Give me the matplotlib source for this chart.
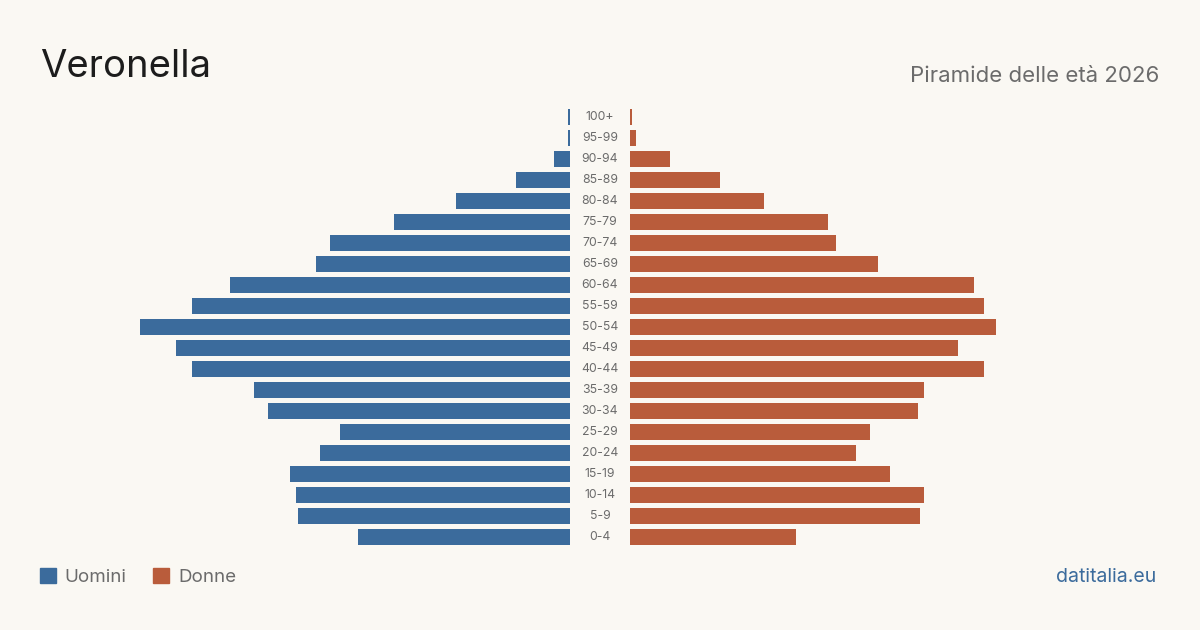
import matplotlib.pyplot as plt
from matplotlib.transforms import blended_transform_factory

plt.rcParams['font.family'] = ['Inter', 'DejaVu Sans']

eta = ['0-4', '5-9', '10-14', '15-19', '20-24', '25-29', '30-34', '35-39',
       '40-44', '45-49', '50-54', '55-59', '60-64', '65-69', '70-74', '75-79',
       '80-84', '85-89', '90-94', '95-99', '100+']
uomini = [106, 136, 137, 140, 125, 115, 151, 158, 189, 197, 215, 189, 170,
          127, 120, 88, 57, 27, 8, 1, 1]
donne = [83, 145, 147, 130, 113, 120, 144, 147, 177, 164, 183, 177, 172,
         124, 103, 99, 67, 45, 20, 3, 1]

blu = '#3b6b9c'
arancio = '#b95c3b'
sfondo = '#faf8f3'
grigio = '#6b6b6b'

W, H = 1200, 630
fig = plt.figure(figsize=(12, 6.3), dpi=100, facecolor=sfondo)

# assi in pixel: centro libero tra 570 e 630
top, bottom = 106.5, 547.5
ax_l = fig.add_axes([140 / W, 1 - bottom / H, 430 / W, (bottom - top) / H])
ax_r = fig.add_axes([630 / W, 1 - bottom / H, 430 / W, (bottom - top) / H])

vmax = max(max(uomini), max(donne))
y = range(len(eta))
ax_l.barh(y, uomini, height=0.8, color=blu)
ax_r.barh(y, donne, height=0.8, color=arancio)
ax_l.set_xlim(vmax, 0)
ax_r.set_xlim(0, vmax)
for ax in (ax_l, ax_r):
    ax.set_ylim(-0.5, len(eta) - 0.5)
    ax.axis('off')

# etichette delle età al centro
trans = blended_transform_factory(fig.transFigure, ax_l.transData)
for i, lab in enumerate(eta):
    fig.text(600 / W, i, lab, transform=trans, ha='center', va='center',
             fontsize=8.8, color=grigio)

fig.text(40 / W, 1 - 67 / H, 'Veronella', fontsize=27.5, color='#1c1c1c',
         ha='left', va='center')
fig.text(1159 / W, 1 - 76 / H, 'Piramide delle età 2026', fontsize=16,
         color=grigio, ha='right', va='center')

# legenda
fig.patches.append(plt.Rectangle((40 / W, 1 - 583 / H), 16 / W, 15 / H,
                                 transform=fig.transFigure, color=blu))
fig.text(64 / W, 1 - 577 / H, 'Uomini', fontsize=13.5, color=grigio,
         ha='left', va='center')
fig.patches.append(plt.Rectangle((153 / W, 1 - 583 / H), 16 / W, 15 / H,
                                 transform=fig.transFigure, color=arancio))
fig.text(178 / W, 1 - 577 / H, 'Donne', fontsize=13.5, color=grigio,
         ha='left', va='center')

fig.text(1156 / W, 1 - 577 / H, 'datitalia.eu', fontsize=14, color=blu,
         ha='right', va='center')

fig.savefig('out.png', dpi=100, facecolor=sfondo)
